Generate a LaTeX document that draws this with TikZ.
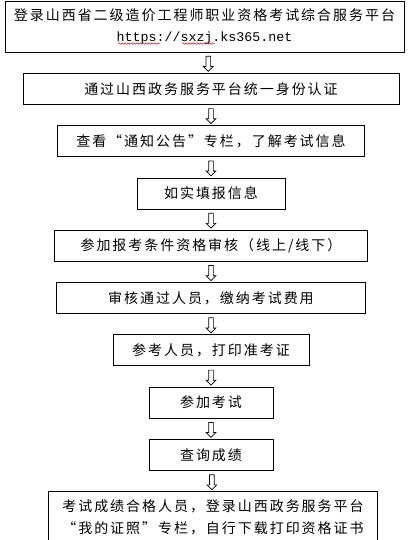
\documentclass[tikz,border=0pt]{standalone}
\usepackage{fontspec}
\setmainfont{Noto Sans CJK SC}[LetterSpace=14]
\setmonofont{Liberation Mono}
\usetikzlibrary{positioning, shapes.arrows, decorations.pathmorphing}

\begin{document}
\begin{tikzpicture}[x=1pt,y=1pt,node distance=20.5pt,line width=0.8pt]
		\tikzstyle{flowbox}=[draw,rectangle,minimum height=31pt,inner sep=0pt,
			font=\fontsize{14}{22}\selectfont,align=center]
		\tikzstyle{downarrow}=[draw,single arrow,rotate=-90,minimum height=15pt,
			minimum width=9pt,single arrow head extend=2.5pt,inner sep=2pt,line width=0.7pt]
		\tikzstyle{spellmark}=[red,line width=0.5pt,decorate,
			decoration={snake,amplitude=0.8pt,segment length=3pt}]
		
		\useasboundingbox (0,0) rectangle (414,-540);
		
		\node[flowbox,minimum width=399pt,minimum height=51pt] (login) at (204.5,-26.5)
			{登录山西省二级造价工程师职业资格考试综合服务平台\\[-1pt]\texttt{\fontsize{13.3}{22}\selectfont https://sxzj.ks365.net}};
		\node[flowbox,minimum width=376pt] (auth)   [below=of login,xshift=6.5pt] {通过山西政务服务平台统一身份认证};
		\node[flowbox,minimum width=307pt] (notice) [below=of auth]   {查看“通知公告”专栏，了解考试信息};
		\node[flowbox,minimum width=148pt] (fill)   [below=of notice] {如实填报信息};
		\node[flowbox,minimum width=313pt] (review) [below=of fill]   {参加报考条件资格审核（线上/线下）};
		\node[flowbox,minimum width=309pt] (fee)    [below=of review] {审核通过人员，缴纳考试费用};
		\node[flowbox,minimum width=196pt] (ticket) [below=of fee]    {参考人员，打印准考证};
		\node[flowbox,minimum width=124pt] (exam)   [below=of ticket] {参加考试};
		\node[flowbox,minimum width=124pt] (score)  [below=of exam]   {查询成绩};
		\node[flowbox,minimum width=329pt,minimum height=51pt] (cert) [below=of score,xshift=2pt]
			{考试成绩合格人员，登录山西政务服务平台\\“我的证照”专栏，自行下载打印资格证书};
		
		\path (login)  -- (auth)   node[midway,downarrow] {};
		\path (auth)   -- (notice) node[midway,downarrow] {};
		\path (notice) -- (fill)   node[midway,downarrow] {};
		\path (fill)   -- (review) node[midway,downarrow] {};
		\path (review) -- (fee)    node[midway,downarrow] {};
		\path (fee)    -- (ticket) node[midway,downarrow] {};
		\path (ticket) -- (exam)   node[midway,downarrow] {};
		\path (exam)   -- (score)  node[midway,downarrow] {};
		\path (score)  -- (cert)   node[midway,downarrow] {};
		
		% spell-check marks under the address
		\draw[spellmark] ([shift={(-86.5,-17)}]login.center) -- ++(42,0);
		\draw[spellmark] ([shift={(-22.5,-17)}]login.center) -- ++(33,0);
\end{tikzpicture}
\end{document}
